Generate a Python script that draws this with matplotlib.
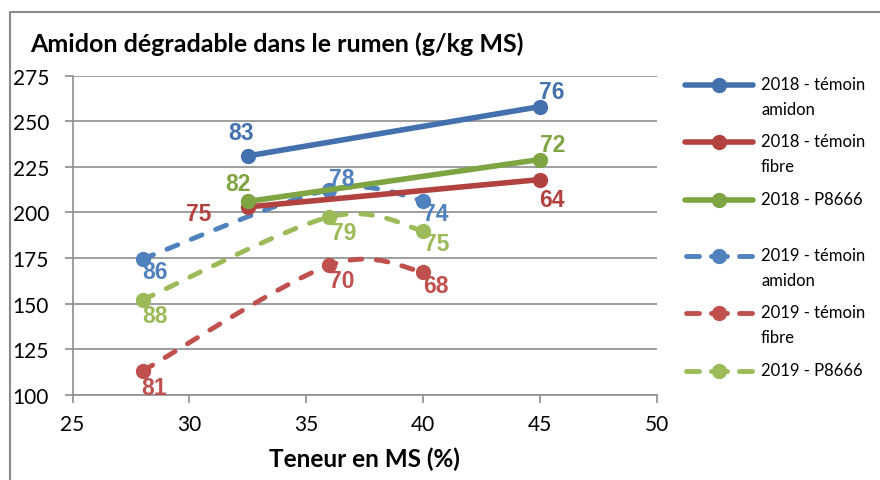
import numpy as np
import matplotlib
matplotlib.use("Agg")
import matplotlib.pyplot as plt
from matplotlib.path import Path
from matplotlib.patches import PathPatch
from matplotlib.lines import Line2D

# --- data ---
x_2018 = [32.5, 45]
amidon_2018 = [231, 258]
fibre_2018 = [203, 218]
p8666_2018 = [206, 229]
lbl_amidon_2018 = ["83", "76"]
lbl_fibre_2018 = ["75", "64"]
lbl_p8666_2018 = ["82", "72"]

x_2019 = [28, 36, 40]
amidon_2019 = [174.5, 212.5, 206.5]
fibre_2019 = [113, 171, 167.5]
p8666_2019 = [152, 197.5, 190]
lbl_amidon_2019 = ["86", "78", "74"]
lbl_fibre_2019 = ["81", "70", "68"]
lbl_p8666_2019 = ["88", "79", "75"]

legend_labels = ["2018 - témoin\namidon", "2018 - témoin\nfibre", "2018 - P8666",
                 "2019 - témoin\namidon", "2019 - témoin\nfibre", "2019 - P8666"]

BLUE18, RED18, GREEN18 = "#4371AD", "#B2423F", "#7FA442"
BLUE19, RED19, GREEN19 = "#4F81BD", "#C0504D", "#9BBB59"
GRID = "#8E8E8E"
TXT = "Lato"
LBL = "Liberation Sans"


def smooth_path(xs, ys):
    # Excel-style smoothed line (Catmull-Rom as cubic Bezier)
    pts = np.column_stack([xs, ys]).astype(float)
    n = len(pts)
    verts, codes = [pts[0]], [Path.MOVETO]
    for i in range(n - 1):
        p0 = pts[i - 1] if i > 0 else pts[i]
        p1, p2 = pts[i], pts[i + 1]
        p3 = pts[i + 2] if i + 2 < n else pts[i + 1]
        verts += [p1 + (p2 - p0) / 6, p2 - (p3 - p1) / 6, p2]
        codes += [Path.CURVE4] * 3
    return Path(verts, codes)


fig = plt.figure(figsize=(8.8, 4.81), dpi=100)
W, H = 880, 481
ax = fig.add_axes([72.5 / W, 1 - 395.7 / H, 584 / W, 319 / H])

DASH = (0, (2.4, 3.0))
LW18, LW19 = 4.0, 3.5
FS_LBL = 16.5
series_2018 = [(amidon_2018, BLUE18, lbl_amidon_2018, [(-5, 17), (9, 11)]),
               (fibre_2018, RED18, lbl_fibre_2018, [(-35, -5), (9, -14)]),
               (p8666_2018, GREEN18, lbl_p8666_2018, [(-7, 13), (9, 11)])]
series_2019 = [(amidon_2019, BLUE19, lbl_amidon_2019, [(9, -9), (9, 8), (9, -9)]),
               (fibre_2019, RED19, lbl_fibre_2019, [(8, -12), (9, -11), (9, -10)]),
               (p8666_2019, GREEN19, lbl_p8666_2019, [(9, -11), (10, -11), (10, -9)])]

for ys, col, lbls, offs in series_2019:
    ax.add_patch(PathPatch(smooth_path(x_2019, ys), fill=False, ec=col, lw=LW19,
                           linestyle=DASH, capstyle="round", zorder=3))
    ax.plot(x_2019, ys, ls="none", marker="o", ms=10, color=col, zorder=4)
    for x, y, t, o in zip(x_2019, ys, lbls, offs):
        ax.annotate(t, (x, y), xytext=o, textcoords="offset points", ha="center",
                    va="center", color=col, fontsize=FS_LBL, fontweight="bold",
                    family=LBL, zorder=6)

for ys, col, lbls, offs in series_2018:
    ax.plot(x_2018, ys, "-o", color=col, lw=LW18, ms=10, zorder=5,
            solid_capstyle="round")
    for x, y, t, o in zip(x_2018, ys, lbls, offs):
        ax.annotate(t, (x, y), xytext=o, textcoords="offset points", ha="center",
                    va="center", color=col, fontsize=FS_LBL, fontweight="bold",
                    family=LBL, zorder=6)

ax.set_xlim(25, 50)
ax.set_ylim(100, 275)
ax.set_xticks(np.arange(25, 51, 5))
ax.set_yticks(np.arange(100, 276, 25))
ax.yaxis.grid(True, color=GRID, lw=1.2)
ax.set_axisbelow(True)
for s in ["top", "right"]:
    ax.spines[s].set_visible(False)
for s in ["left", "bottom"]:
    ax.spines[s].set_color(GRID)
    ax.spines[s].set_linewidth(1.2)
ax.tick_params(axis="both", colors=GRID, length=6, width=1.2, labelsize=15,
               labelcolor="black")
ax.tick_params(axis="x", pad=8)
ax.tick_params(axis="y", pad=11)
for lab in ax.get_xticklabels() + ax.get_yticklabels():
    lab.set_family(TXT)
ax.set_xlabel("Teneur en MS (%)", fontsize=17.5, fontweight="bold", family=TXT,
              labelpad=9)

# overlay in pixel coords for frame, title and legend
ov = fig.add_axes([0, 0, 1, 1], zorder=-1)
ov.set_xlim(0, W)
ov.set_ylim(H, 0)
ov.axis("off")
ov.plot([10, 10, W + 5], [H + 5, 13, 13], color="#8A8A8A", lw=1.5)
fig.text(30 / W, 1 - 44 / H, "Amidon dégradable dans le rumen (g/kg MS)",
         fontsize=18, fontweight="bold", family=TXT, va="center", ha="left")

leg = fig.add_axes([0, 0, 1, 1])
leg.set_xlim(0, W)
leg.set_ylim(H, 0)
leg.axis("off")
leg_y = [86, 143, 201, 257, 314, 372]
leg_cols = [BLUE18, RED18, GREEN18, BLUE19, RED19, GREEN19]
for i, (lab, col, y) in enumerate(zip(legend_labels, leg_cols, leg_y)):
    if i < 3:
        leg.add_line(Line2D([685, 753], [y, y], color=col, lw=LW18,
                            solid_capstyle="round"))
    else:
        # dash - marker - dash, as in the original legend swatch
        for xa, xb in [(686, 699), (711, 727), (739, 752)]:
            leg.add_line(Line2D([xa, xb], [y, y], color=col, lw=LW19,
                                solid_capstyle="round"))
    leg.plot([719], [y], "o", color=col, ms=10)
    leg.text(761, y - 9, lab, fontsize=12, family=TXT, va="top", ha="left",
             linespacing=1.7)

fig.savefig("out.png", dpi=100, facecolor="white")
